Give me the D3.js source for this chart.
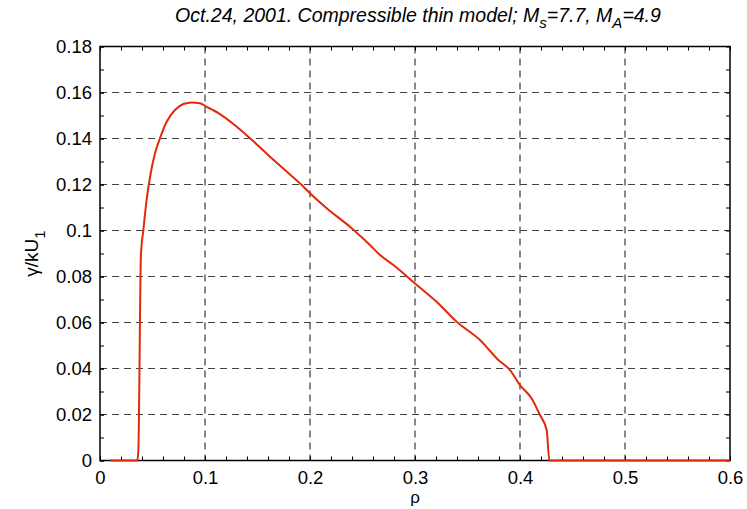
<!DOCTYPE html>
<html><head><meta charset="utf-8">
<script src="https://cdn.jsdelivr.net/npm/d3@7/dist/d3.min.js"></script>
<style>body{margin:0;background:#fff}svg{display:block}text{font-family:"Liberation Sans",Arial,sans-serif}</style>
</head><body>
<svg id="c" width="747" height="509"></svg>
<script>
const rho = [0.010,0.0355,0.0365,0.039,0.0413,0.0444,0.0483,0.0524,0.0571,0.0635,0.0714,0.0794,0.0873,0.0952,0.1016,0.1127,0.127,0.1429,0.1619,0.1778,0.1921,0.2,0.2159,0.2397,0.2571,0.2667,0.2794,0.3,0.3206,0.3397,0.3619,0.3794,0.3905,0.4,0.4111,0.419,0.4254,0.428,0.6];
const gamma = [0,0,0.004,0.0895,0.1002,0.1133,0.1249,0.1336,0.1401,0.1473,0.1524,0.155,0.1557,0.1553,0.1538,0.151,0.1463,0.1401,0.1321,0.1256,0.1198,0.1162,0.1097,0.101,0.0937,0.0893,0.085,0.077,0.069,0.0603,0.0524,0.0437,0.0393,0.0328,0.027,0.0198,0.0133,0,0];
const xTicks = [0,0.1,0.2,0.3,0.4,0.5,0.6];
const yTicks = [0,0.02,0.04,0.06,0.08,0.1,0.12,0.14,0.16,0.18];
const xMinor = d3.range(0,0.6001,0.02);
const yMinor = d3.range(0,0.1801,0.01);

const svg = d3.select("#c");
const L=100,R=730,T=46.5,B=460.5;
const x = d3.scaleLinear().domain([0,0.6]).range([L,R]);
const y = d3.scaleLinear().domain([0,0.18]).range([B,T]);

// grid
svg.append("g").selectAll("line").data(xTicks.slice(1,-1)).join("line")
 .attr("x1",d=>x(d)).attr("x2",d=>x(d)).attr("y1",T).attr("y2",B)
 .attr("stroke","#111").attr("stroke-width",1).attr("stroke-dasharray","7,5");
svg.append("g").selectAll("line").data(yTicks.slice(1,-1)).join("line")
 .attr("y1",d=>y(d)).attr("y2",d=>y(d)).attr("x1",L).attr("x2",R)
 .attr("stroke","#444").attr("stroke-width",1).attr("stroke-dasharray","7,5");

// axes with inward ticks
const fmt = d=>d===0?"0":String(+d.toFixed(2));
const ax = (gen, tr)=>{const g=svg.append("g").attr("transform",tr).call(gen);g.select(".domain").remove();return g;};
const bot = ax(d3.axisBottom(x).tickValues(xTicks).tickFormat(fmt).tickSizeInner(-4).tickSizeOuter(0).tickPadding(10),`translate(0,${B})`);
bot.selectAll("text").attr("font-size",18.5).attr("fill","#000");
ax(d3.axisBottom(x).tickValues(xMinor).tickFormat("").tickSizeInner(-4).tickSizeOuter(0),`translate(0,${B})`);
ax(d3.axisTop(x).tickValues(xMinor).tickFormat("").tickSizeInner(-4).tickSizeOuter(0),`translate(0,${T})`);
const lef = ax(d3.axisLeft(y).tickValues(yTicks).tickFormat(fmt).tickSizeInner(-4).tickSizeOuter(0).tickPadding(8),`translate(${L},0)`);
lef.selectAll("text").attr("font-size",18.5).attr("fill","#000");
ax(d3.axisLeft(y).tickValues(yMinor).tickFormat("").tickSizeInner(-4).tickSizeOuter(0),`translate(${L},0)`);
ax(d3.axisRight(y).tickValues(yMinor).tickFormat("").tickSizeInner(-4).tickSizeOuter(0),`translate(${R},0)`);
svg.selectAll(".tick line").attr("stroke","#000");

// frame
svg.append("rect").attr("x",L).attr("y",T).attr("width",R-L).attr("height",B-T)
 .attr("fill","none").attr("stroke","#000").attr("stroke-width",1.5);

// curve
svg.append("path").datum(rho.map((r,i)=>[r,gamma[i]]))
 .attr("d",d3.line().curve(d3.curveMonotoneX).x(d=>x(d[0])).y(d=>y(d[1])))
 .attr("fill","none").attr("stroke","#e2290b").attr("stroke-width",2);

// title
const t = svg.append("text").attr("x",418).attr("y",22).attr("text-anchor","middle")
 .attr("font-size",19.5).attr("font-style","italic");
t.append("tspan").text("Oct.24, 2001. Compressible thin model; M");
t.append("tspan").attr("dy",6).attr("font-size",15).text("s");
t.append("tspan").attr("dy",-6).text("=7.7, M");
t.append("tspan").attr("dy",6).attr("font-size",15).text("A");
t.append("tspan").attr("dy",-6).text("=4.9");

// axis labels
svg.append("text").attr("x",(L+R)/2).attr("y",503).attr("text-anchor","middle").attr("font-size",17).text("ρ");
const yl = svg.append("text").attr("transform",`translate(38,${(T+B)/2}) rotate(-90)`).attr("text-anchor","middle").attr("font-size",19);
yl.append("tspan").text("γ/kU");
yl.append("tspan").attr("dy",7).attr("font-size",15).text("1");
</script>
</body></html>
